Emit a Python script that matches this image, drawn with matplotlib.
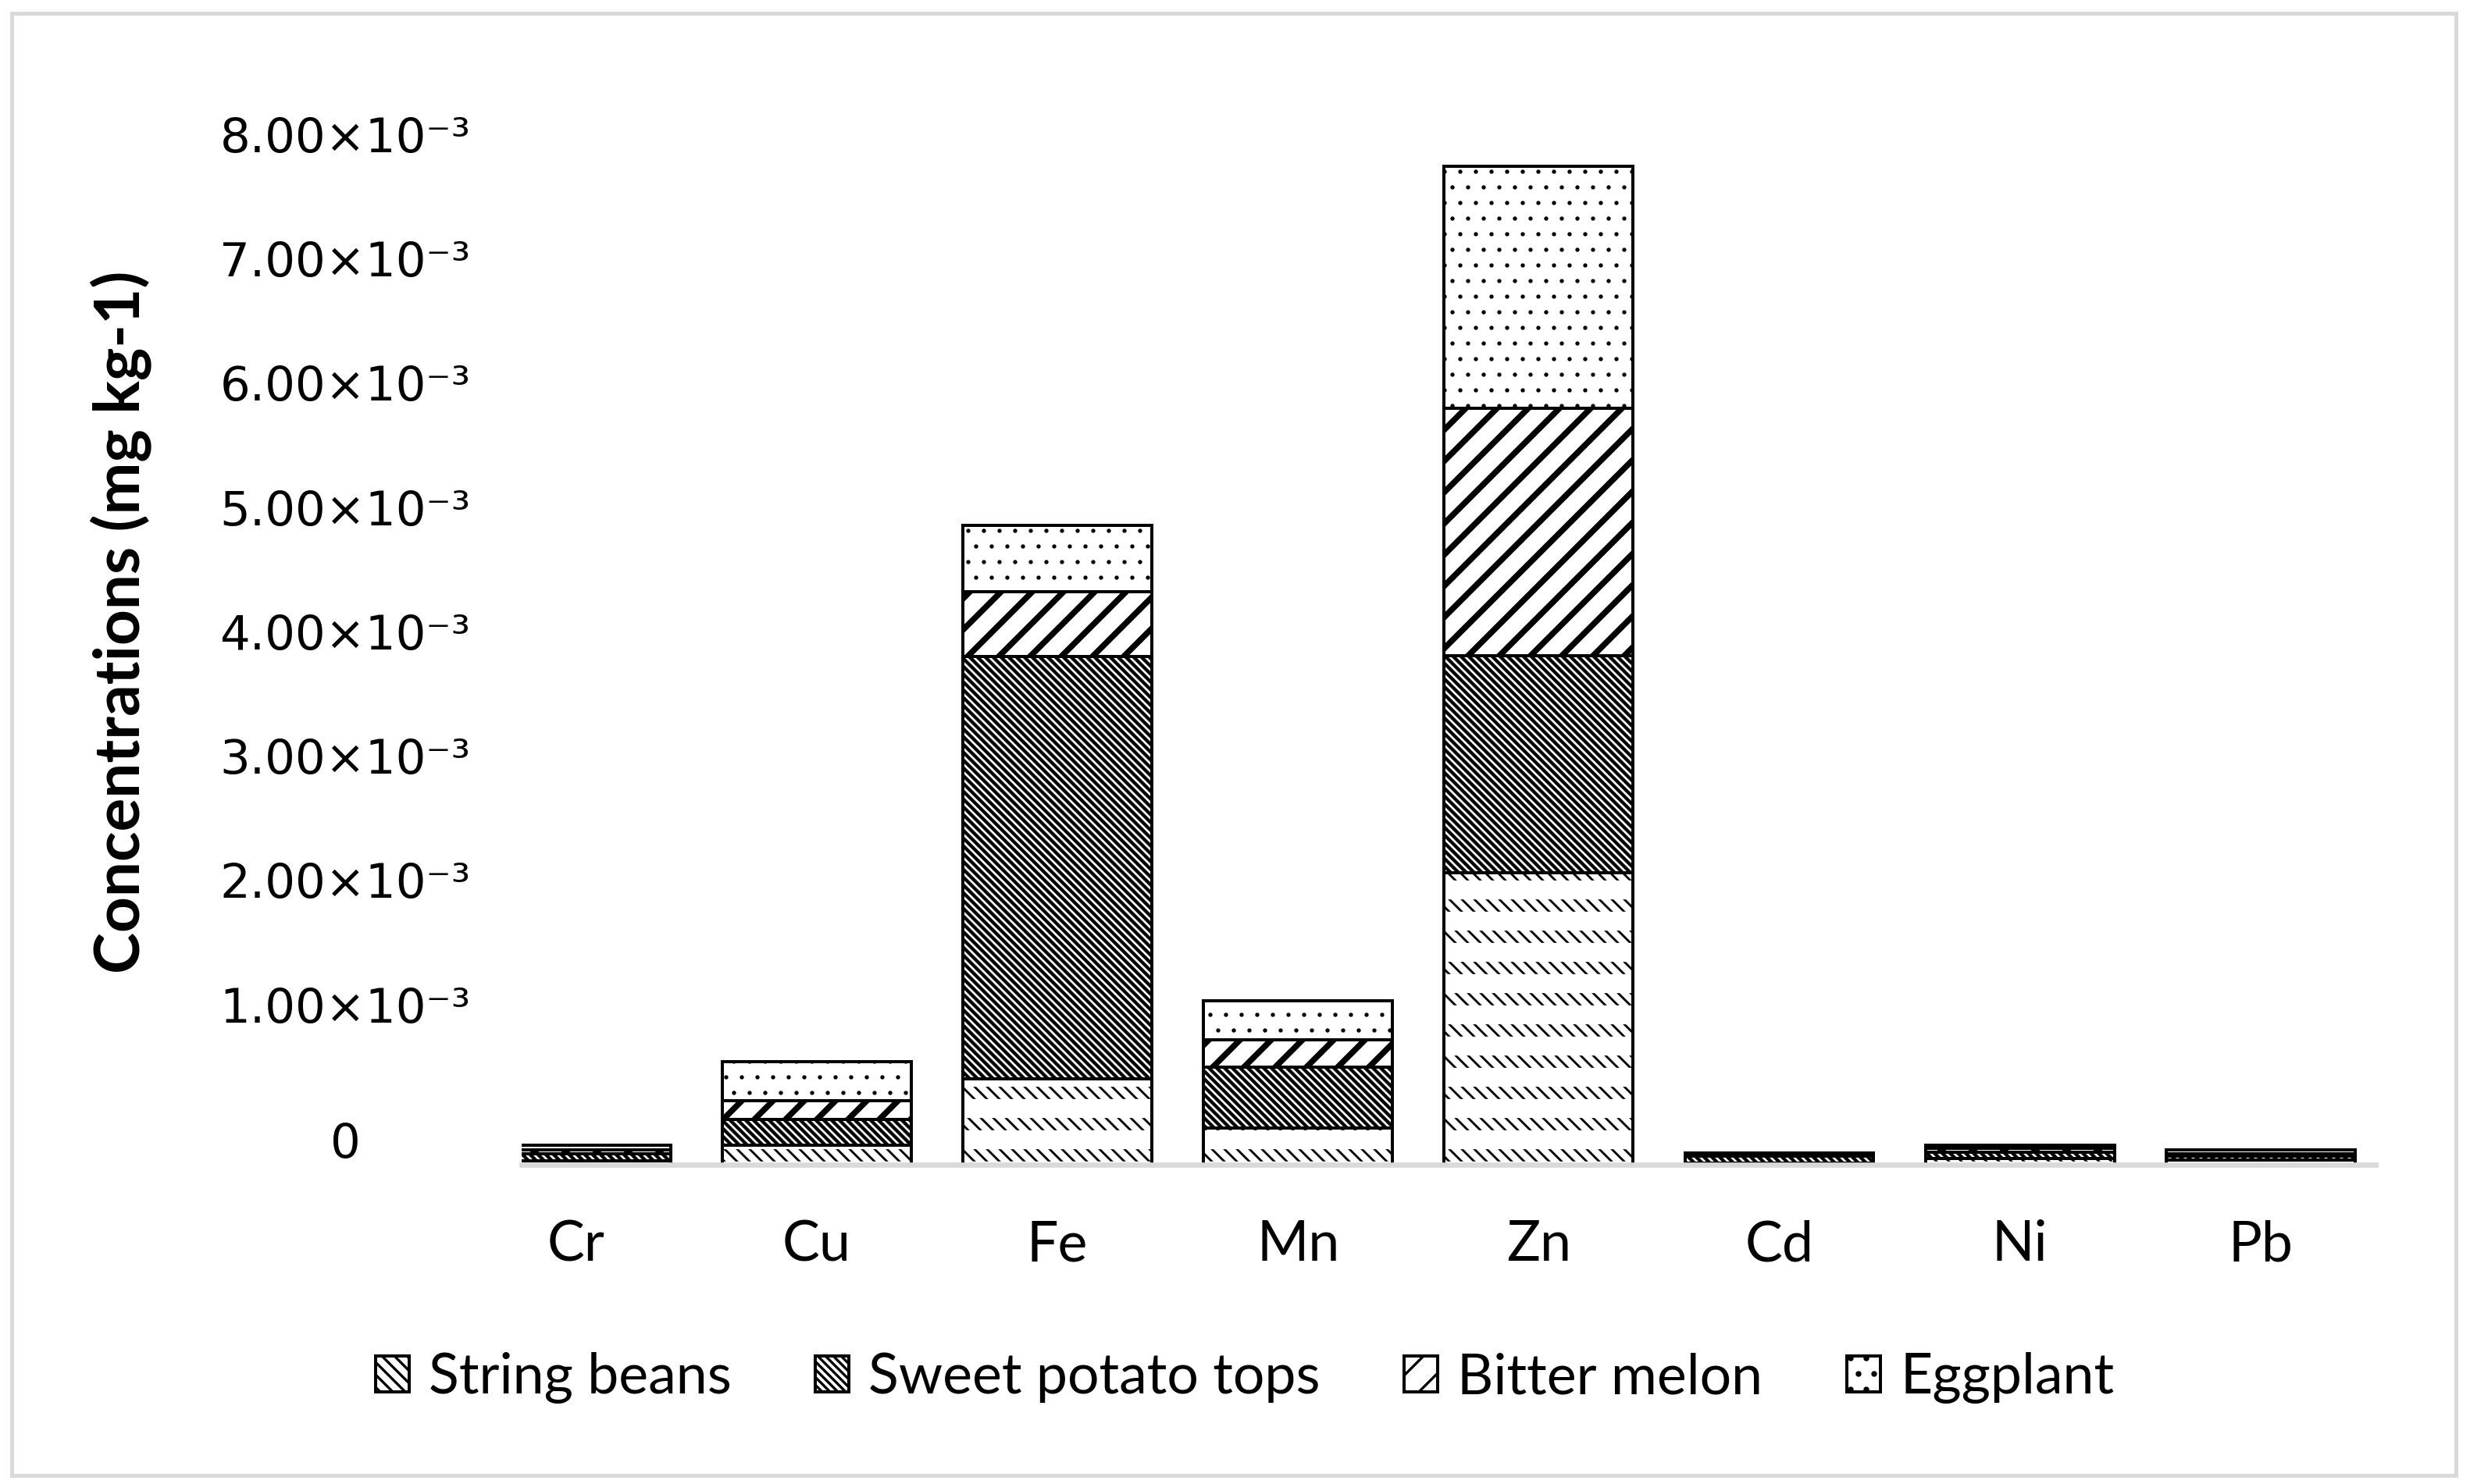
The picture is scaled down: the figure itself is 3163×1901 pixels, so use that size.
import matplotlib
matplotlib.use('Agg')
import matplotlib.pyplot as plt
from matplotlib.patches import Rectangle
from matplotlib.transforms import ScaledTranslation

# ---------------- data (mg kg-1) ----------------
metals = ['Cr', 'Cu', 'Fe', 'Mn', 'Zn', 'Cd', 'Ni', 'Pb']
series_names = ['String beans', 'Sweet potato tops', 'Bitter melon', 'Eggplant']
string_beans = [0.03e-3, 0.157e-3, 0.69e-3, 0.295e-3, 2.35e-3, 0.01e-3, 0.05e-3, 0.04e-3]
sweet_potato_tops = [0.06e-3, 0.207e-3, 3.40e-3, 0.49e-3, 1.745e-3, 0.06e-3, 0.05e-3, 0.03e-3]
bitter_melon = [0.03e-3, 0.151e-3, 0.52e-3, 0.22e-3, 1.99e-3, 0.01e-3, 0.03e-3, 0.02e-3]
eggplant = [0.04e-3, 0.314e-3, 0.53e-3, 0.314e-3, 1.946e-3, 0.015e-3, 0.03e-3, 0.03e-3]
ytick_values = [0, 1e-3, 2e-3, 3e-3, 4e-3, 5e-3, 6e-3, 7e-3, 8e-3]
ytick_labels = ['0', '1.00×10⁻³', '2.00×10⁻³', '3.00×10⁻³', '4.00×10⁻³',
                '5.00×10⁻³', '6.00×10⁻³', '7.00×10⁻³', '8.00×10⁻³']

DPI = 240
W, H = 3163, 1901

fig = plt.figure(figsize=(W / DPI, H / DPI), dpi=DPI)
ax = fig.add_axes([668 / W, 1 - 1492 / H, (3042 - 668) / W, (1492 - 154) / H])

x = list(range(len(metals)))
bar_w = 0.785


def hatch_lw(bars, lw):
    # hatch line width per bar (matplotlib >= 3.10), otherwise global
    for b in bars:
        if hasattr(b, 'set_hatch_linewidth'):
            b.set_hatch_linewidth(lw)
        else:
            plt.rcParams['hatch.linewidth'] = lw


# ---------------- stacked bars ----------------
# (hatch, hatch line width) for each vegetable
styles = [('\\' * 5, 0.85), ('\\' * 8, 1.3), ('//', 2.3), ('..', 0.4)]
all_series = [string_beans, sweet_potato_tops, bitter_melon, eggplant]
bottom = [0.0] * len(metals)
handles = []
for k, vals in enumerate(all_series):
    hatch, hlw = styles[k]
    bars = ax.bar(x, vals, bar_w, bottom=bottom, color='white', edgecolor='black',
                  linewidth=1.2, hatch=hatch, zorder=1)
    hatch_lw(bars, hlw)
    handles.append(bars)
    if k == 0:
        # white horizontal bands cut the diagonal lines into dashes
        cut = ax.bar(x, vals, bar_w, bottom=bottom, fill=False, edgecolor='white',
                     linewidth=0, hatch='-', zorder=1.1)
        hatch_lw(cut, 7.3)
        ax.bar(x, vals, bar_w, bottom=bottom, fill=False, edgecolor='black',
               linewidth=1.2, zorder=1.2)
    bottom = [b + v for b, v in zip(bottom, vals)]

ax.set_xlim(-0.227, 7.478)
ax.set_ylim(0, 8.4e-3)

# ---------------- axes ----------------
for side in ['left', 'top', 'right']:
    ax.spines[side].set_visible(False)
ax.spines['bottom'].set_color('#d9d9d9')
ax.spines['bottom'].set_linewidth(2.0)

ax.set_xticks(x)
ax.set_xticklabels(metals, fontsize=21.5, family='Lato')
ax.tick_params(axis='x', length=0, pad=21)

ax.set_yticks(ytick_values)
ax.set_yticklabels(ytick_labels, fontsize=18.3, family='DejaVu Sans')
ax.tick_params(axis='y', length=0, pad=67.8)
for i, lab in enumerate(ax.get_yticklabels()):
    lab.set_ha('center')
    up = 32 if i == 0 else 46
    lab.set_transform(lab.get_transform() + ScaledTranslation(0, up / DPI, fig.dpi_scale_trans))

fig.text(155 / W, 1 - 797 / H, 'Concentrations (mg kg-1)', rotation=90, ha='center',
         va='center', fontsize=24, fontweight='bold', family='Lato')

# ---------------- legend ----------------
fig.legend(handles, series_names, loc='center', bbox_to_anchor=(0.504, 0.0715), ncol=4,
           frameon=False, prop={'family': 'Lato', 'size': 21.5}, handlelength=0.6,
           handleheight=0.6, handletextpad=0.35, columnspacing=1.5)

# light grey frame round the whole chart
fig.patches.append(Rectangle((15 / W, 11 / H), 3130 / W, 1873 / H, transform=fig.transFigure,
                             fill=False, edgecolor='#d9d9d9', linewidth=1.5))

fig.savefig('out.png', dpi=DPI)
